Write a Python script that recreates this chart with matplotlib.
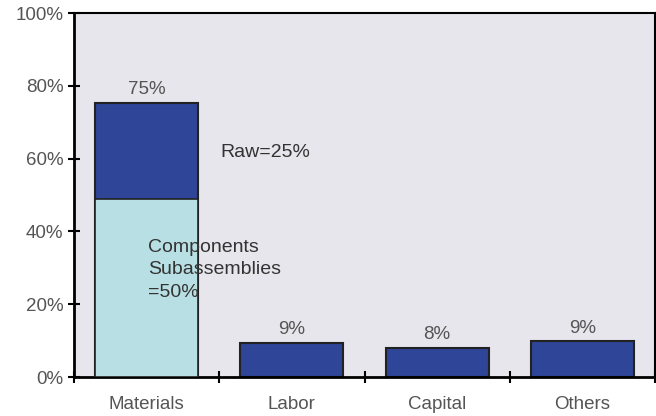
import matplotlib
matplotlib.use("Agg")
import matplotlib.pyplot as plt
import numpy as np

categories = ["Materials", "Labor", "Capital", "Others"]
totals = [75.3, 9.3, 8.0, 9.8]
value_labels = ["75%", "9%", "8%", "9%"]
components = 48.9  # lower part of Materials
yticks = [0, 20, 40, 60, 80, 100]
ytick_labels = ["0%", "20%", "40%", "60%", "80%", "100%"]

dark = "#2e4598"
light = "#b8e0e4"
bg = "#e6e6ec"
txt = "#555555"

plt.rcParams['font.family'] = ['Liberation Sans', 'DejaVu Sans']

fig = plt.figure(figsize=(6.56, 4.16), dpi=100)
ax = fig.add_axes([74/656, 1-377/416, (655-74)/656, (377-13)/416])
ax.set_facecolor(bg)

x = np.arange(len(categories))
w = 0.71
ax.bar(x, totals, width=w, color=dark, edgecolor="#222222", linewidth=1.5, zorder=2)
ax.bar([0], [components], width=w, color=light, edgecolor="#222222", linewidth=1.2, zorder=3)

for xi, t, lab in zip(x, totals, value_labels):
    ax.text(xi, t + 1.3, lab, ha="center", va="bottom", fontsize=13.5, color=txt)

ax.text(0.51, 61.8, "Raw=25%", ha="left", va="center", fontsize=14, color="#333333")
ax.text(0.01, 29.4, "Components\nSubassemblies\n=50%", ha="left", va="center",
        fontsize=14, color="#333333", linespacing=1.45, zorder=4)

ax.set_xlim(-0.5, 3.5)
ax.set_ylim(0, 100)
ax.set_yticks(yticks)
ax.set_yticklabels(ytick_labels, fontsize=13.5, color=txt)
ax.set_xticks(x)
ax.set_xticklabels(categories, fontsize=13.5, color=txt)
ax.set_xticks(np.arange(-0.5, 3.6, 1.0), minor=True)
ax.tick_params(axis="x", which="major", length=0, pad=14)
ax.tick_params(axis="x", which="minor", length=9, width=1.5, direction="inout")
ax.tick_params(axis="y", which="major", length=9, width=1.5, direction="inout", pad=3)

for s in ["left", "bottom"]:
    ax.spines[s].set_linewidth(2)
for s in ["top", "right"]:
    ax.spines[s].set_linewidth(1.5)

fig.savefig("out.png", dpi=100, facecolor="white")
